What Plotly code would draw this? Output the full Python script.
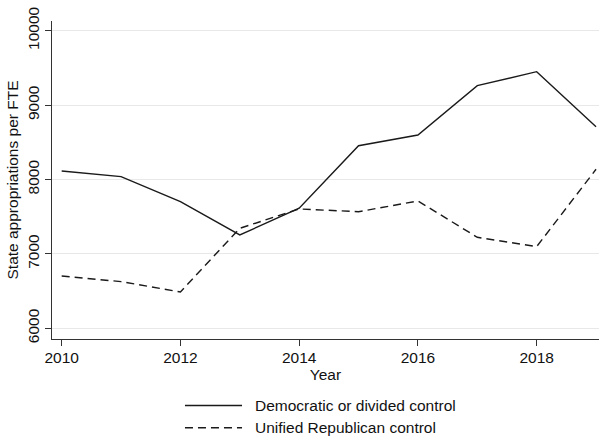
import plotly.graph_objects as go

years = [2010, 2011, 2012, 2013, 2014, 2015, 2016, 2017, 2018, 2019]
dem_divided = [8114, 8038, 7702, 7254, 7615, 8454, 8598, 9261, 9449, 8710]
unified_rep = [6703, 6627, 6488, 7344, 7604, 7567, 7711, 7223, 7097, 8137]
series_names = ["Democratic or divided control", "Unified Republican control"]
x_ticks = [2010, 2012, 2014, 2016, 2018]
y_ticks = [6000, 7000, 8000, 9000, 10000]
y_tick_labels = ["6000", "7000", "8000", "9000", "10000"]

FONT = "Liberation Sans, Arial, Helvetica, sans-serif"
FS = 15.5
LINE = "#1a1a1a"
DASH = "8px,5px"

fig = go.Figure()
fig.add_trace(go.Scatter(x=years, y=dem_divided, mode="lines",
                         name=series_names[0], showlegend=False,
                         line=dict(color=LINE, width=1.4)))
fig.add_trace(go.Scatter(x=years, y=unified_rep, mode="lines",
                         name=series_names[1], showlegend=False,
                         line=dict(color=LINE, width=1.4, dash=DASH)))

# legend below the plot (sample line + label), Stata style
leg_x0, leg_x1, leg_tx = 0.2431, 0.3474, 0.3711
leg_rows = [-0.2091, -0.2789]
leg_dash = ["solid", DASH]
for name, yy, dsh in zip(series_names, leg_rows, leg_dash):
    fig.add_shape(type="line", xref="paper", yref="paper",
                  x0=leg_x0, x1=leg_x1, y0=yy, y1=yy,
                  line=dict(color=LINE, width=1.4, dash=dsh))
    fig.add_annotation(xref="paper", yref="paper", x=leg_tx, y=yy,
                       xanchor="left", yanchor="middle", showarrow=False,
                       text=name, font=dict(size=FS, color="#111111"),
                       xshift=-2)

fig.update_layout(
    width=599, height=436,
    margin=dict(l=52, r=0, t=21, b=97, autoexpand=False),
    paper_bgcolor="white", plot_bgcolor="white",
    font=dict(family=FONT, size=FS, color="#111111"),
    showlegend=False,
    xaxis=dict(range=[2009.837, 2019.05], tickvals=x_ticks,
               showgrid=False, zeroline=False,
               showline=True, linecolor="#333333", linewidth=1,
               ticks="outside", ticklen=6, tickcolor="#333333",
               ticklabelstandoff=-2,
               title=dict(text="Year", standoff=0, font=dict(size=FS)),
               tickfont=dict(size=FS)),
    yaxis=dict(range=[5856, 10130], tickvals=y_ticks, ticktext=y_tick_labels,
               tickangle=-90,
               showgrid=True, gridcolor="#e8e8e8", gridwidth=1.2,
               zeroline=False,
               showline=True, linecolor="#333333", linewidth=1,
               ticks="outside", ticklen=6, tickcolor="#333333",
               title=dict(text="State appropriations per FTE", standoff=2,
                          font=dict(size=FS)),
               tickfont=dict(size=FS)),
)

fig.write_html("out.html")
